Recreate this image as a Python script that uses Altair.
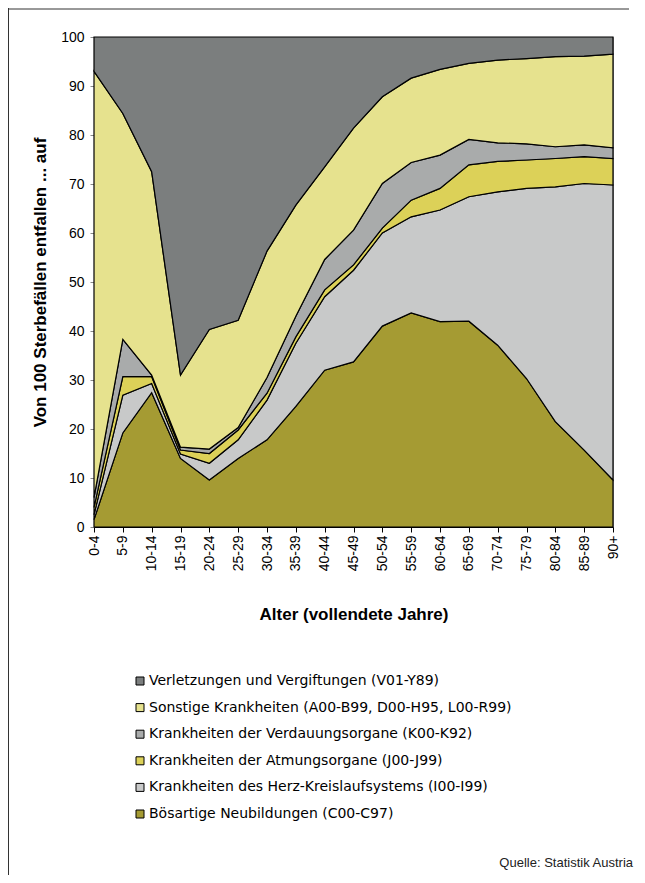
import altair as alt
import pandas as pd

ages = ["0-4", "5-9", "10-14", "15-19", "20-24", "25-29", "30-34", "35-39",
        "40-44", "45-49", "50-54", "55-59", "60-64", "65-69", "70-74",
        "75-79", "80-84", "85-89", "90+"]

# Values per cause (share of 100 deaths), bottom of stack first
neubildungen = [1.5, 19.2, 27.4, 14.0, 9.6, 14.0, 17.8, 24.6, 32.0, 33.7,
                41.0, 43.7, 41.9, 42.0, 37.1, 30.3, 21.5, 15.7, 9.6]
herz = [1.0, 7.7, 1.9, 0.9, 3.4, 3.8, 8.1, 12.9, 15.0, 18.7,
        19.0, 19.6, 22.8, 25.4, 31.3, 38.8, 47.9, 54.4, 60.2]
atmung = [1.5, 3.8, 1.4, 0.8, 2.0, 2.0, 1.4, 1.3, 1.4, 1.1,
          1.0, 3.4, 4.4, 6.5, 6.2, 5.8, 5.8, 5.5, 5.4]
verdauung = [2.0, 7.6, 0.3, 0.6, 0.9, 0.5, 3.2, 4.2, 6.2, 7.1,
             9.1, 7.7, 6.8, 5.2, 3.8, 3.3, 2.4, 2.4, 2.2]
sonstige = [87.0, 46.1, 41.5, 14.7, 24.4, 21.9, 25.8, 22.7, 18.9, 20.8,
            17.7, 17.2, 17.5, 15.5, 16.9, 17.4, 18.4, 18.1, 19.1]
verletzungen = [7.0, 15.6, 27.5, 69.0, 59.7, 57.8, 43.7, 34.3, 26.5, 18.6,
                12.2, 8.4, 6.6, 5.4, 4.7, 4.4, 4.0, 3.9, 3.5]

causes = [
    "Bösartige Neubildungen (C00-C97)",
    "Krankheiten des Herz-Kreislaufsystems (I00-I99)",
    "Krankheiten der Atmungsorgane (J00-J99)",
    "Krankheiten der Verdauungsorgane (K00-K92)",
    "Sonstige Krankheiten (A00-B99, D00-H95, L00-R99)",
    "Verletzungen und Vergiftungen (V01-Y89)",
]
colors = ["#a59b33", "#c8c9c9", "#dcd158", "#a9abab", "#e6e28e", "#7b7e7e"]
series = [neubildungen, herz, atmung, verdauung, sonstige, verletzungen]

rows = []
for k, (cause, vals) in enumerate(zip(causes, series)):
    for a, v in zip(ages, vals):
        rows.append({"age": a, "cause": cause, "value": v, "order": k})
df = pd.DataFrame(rows)

legend_order = list(reversed(causes))
legend_colors = list(reversed(colors))

FONT = "Liberation Sans"

area = alt.Chart(df).mark_area(stroke="black", strokeWidth=1.2).encode(
    x=alt.X("age:O", sort=ages, scale=alt.Scale(padding=0),
            axis=alt.Axis(title="Alter (vollendete Jahre)", labelAngle=-90,
                          labelFontSize=14, labelFont=FONT, labelColor="black",
                          titleFont=FONT, titleFontSize=17, titleFontWeight="bold",
                          titleColor="black", titlePadding=36,
                          tickSize=5, tickColor="black", domainColor="black",
                          labelPadding=3)),
    y=alt.Y("value:Q", stack="zero",
            scale=alt.Scale(domain=[0, 100], nice=False),
            axis=alt.Axis(title="Von 100 Sterbefällen entfallen ... auf",
                          values=list(range(0, 101, 10)), grid=False,
                          labelFontSize=14, labelFont=FONT, labelColor="black",
                          titleFont=FONT, titleFontSize=17, titleFontWeight="bold",
                          titleColor="black", titlePadding=11,
                          tickSize=4, tickColor="#888", domainColor="black",
                          labelPadding=6)),
    color=alt.Color("cause:N",
                    scale=alt.Scale(domain=legend_order, range=legend_colors),
                    legend=alt.Legend(title=None, orient="none", legendX=39, legendY=637,
                                      symbolType="square", symbolSize=64,
                                      symbolStrokeColor="black", symbolStrokeWidth=1,
                                      symbolOpacity=1,
                                      labelFont="DejaVu Sans", labelFontSize=14,
                                      labelColor="black", rowPadding=12.6,
                                      labelOffset=2, labelLimit=520)),
    order=alt.Order("order:Q", sort="ascending"),
)

source = pd.DataFrame({"t": ["Quelle: Statistik Austria"]})
src = alt.Chart(source).mark_text(align="right", baseline="middle", fontSize=13,
                                  font=FONT, color="#222").encode(
    x=alt.value(539), y=alt.value(826), text="t:N")

frame_top = alt.Chart(source).mark_rule(color="#333", strokeWidth=1).encode(
    x=alt.value(-86), x2=alt.value(535), y=alt.value(-28))
frame_left = alt.Chart(source).mark_rule(color="#333", strokeWidth=1).encode(
    x=alt.value(-85.5), y=alt.value(-29), y2=alt.value(838))

chart = alt.layer(area, src, frame_top, frame_left).properties(
    width=519, height=490,
    autosize=alt.AutoSizeParams(type="none"),
    padding={"left": 86, "top": 29, "right": 24, "bottom": 348},
).configure_view(stroke="#999", strokeWidth=1)

chart.save("out.html", embed_options={"renderer": "svg", "actions": False})
